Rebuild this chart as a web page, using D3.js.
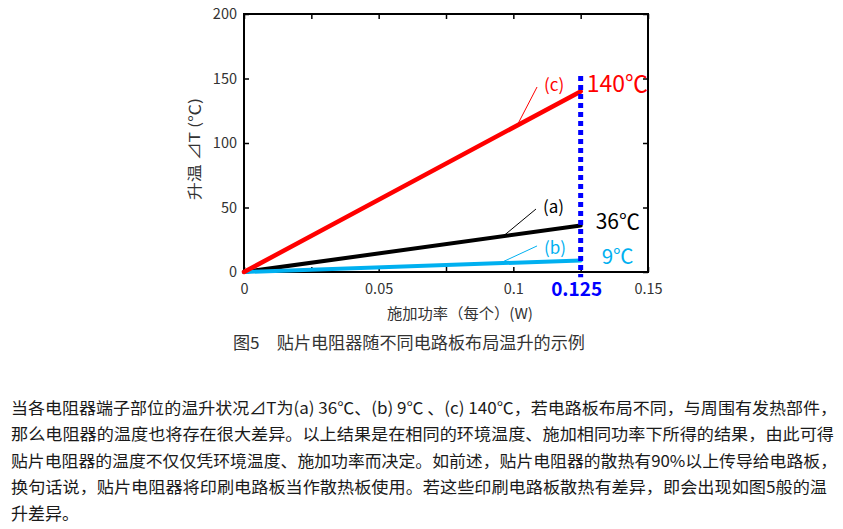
<!DOCTYPE html>
<html>
<head>
<meta charset="utf-8">
<script src="https://cdn.jsdelivr.net/npm/d3@7/dist/d3.min.js"></script>
<style>
  html, body { margin: 0; padding: 0; background: #fff; }
  svg { display: block; font-family: "Noto Sans CJK SC", "Noto Sans", sans-serif; }
</style>
</head>
<body>
<svg id="chart" width="843" height="529"></svg>
<script>
// ---- data ----
const power = [0, 0.125];                 // W per resistor
const riseA = [0, 36];                    // (a) black
const riseB = [0, 9];                     // (b) light blue
const riseC = [0, 140];                   // (c) red
const seriesNames = ["(a)", "(b)", "(c)"];
const endLabels = ["36℃", "9℃", "140℃"];
const xTickValues = [0, 0.025, 0.05, 0.075, 0.1, 0.125, 0.15];
const xTickLabels = ["0", "", "0.05", "", "0.1", "", "0.15"];
const yTickValues = [0, 50, 100, 150, 200];
const yTickLabels = ["0", "50", "100", "150", "200"];
const markerPower = 0.125;
const markerLabel = "0.125";
const leaderStart = [[0.1084, 48.8], [0.1088, 20.2], [0.1088, 143.4]];
const leaderEndX = [0.0962, 0.0950, 0.1014];
const xTitle = "施加功率（每个）(W)";
const yTitle = "升温  ⊿T (℃)";
const caption = "图5　贴片电阻器随不同电路板布局温升的示例";
const paragraph = [
  "当各电阻器端子部位的温升状况⊿T为(a) 36℃、(b) 9℃ 、(c) 140℃，若电路板布局不同，与周围有发热部件，",
  "那么电阻器的温度也将存在很大差异。以上结果是在相同的环境温度、施加相同功率下所得的结果，由此可得",
  "贴片电阻器的温度不仅仅凭环境温度、施加功率而决定。如前述，贴片电阻器的散热有90%以上传导给电路板，",
  "换句话说，贴片电阻器将印刷电路板当作散热板使用。若这些印刷电路板散热有差异，即会出现如图5般的温",
  "升差异。"
];

// ---- styles ----
const colors = ["#000000", "#00b0f0", "#ff0000"];
const widths = [4, 4, 4.5];
const endOffsets = [[15, 3.5, 21], [21, 3.6, 20.5], [6, 0.8, 23]];  // dx, dy, font-size

const svg = d3.select("#chart");
const L = 244, R = 648, T = 14, B = 272;
const x = d3.scaleLinear().domain([0, 0.15]).range([L, R]);
const y = d3.scaleLinear().domain([0, 200]).range([B, T]);

// ticks
const axB = d3.axisBottom(x).tickValues(xTickValues).tickSizeInner(-5).tickSizeOuter(0).tickPadding(12)
  .tickFormat((d, i) => xTickLabels[i]);
const axT = d3.axisTop(x).tickValues(xTickValues).tickSizeInner(-5).tickSizeOuter(0).tickFormat("");
const axL = d3.axisLeft(y).tickValues(yTickValues).tickSizeInner(-5).tickSizeOuter(0).tickPadding(7)
  .tickFormat((d, i) => yTickLabels[i]);
const axR = d3.axisRight(y).tickValues(yTickValues).tickSizeInner(-5).tickSizeOuter(0).tickFormat("");

function styleAxis(g) {
  g.select(".domain").remove();
  g.selectAll(".tick line").attr("stroke", "#000").attr("stroke-width", 1.5);
  g.selectAll(".tick text").attr("fill", "#333").attr("font-size", 14.5)
    .attr("font-family", "'Noto Sans CJK SC', 'Noto Sans', sans-serif");
}
svg.append("g").attr("transform", `translate(0,${B})`).call(axB).call(styleAxis);
svg.append("g").attr("transform", `translate(0,${T})`).call(axT).call(styleAxis);
svg.append("g").attr("transform", `translate(${L},0)`).call(axL).call(styleAxis);
svg.append("g").attr("transform", `translate(${R},0)`).call(axR).call(styleAxis);

// frame
svg.append("rect").attr("x", L).attr("y", T).attr("width", R - L).attr("height", B - T)
  .attr("fill", "none").attr("stroke", "#000").attr("stroke-width", 2);

// series lines
const series = [riseA, riseB, riseC];
const line = d3.line().x(d => x(d[0])).y(d => y(d[1]));
series.forEach((vals, i) => {
  svg.append("path").datum(power.map((p, j) => [p, vals[j]]))
    .attr("d", line).attr("fill", "none").attr("stroke", colors[i])
    .attr("stroke-width", widths[i]).attr("stroke-linecap", "round");
});

// leader lines + labels
series.forEach((vals, i) => {
  const slope = vals[1] / power[1];
  const ex = leaderEndX[i], ey = slope * ex;
  svg.append("line")
    .attr("x1", x(leaderStart[i][0])).attr("y1", y(leaderStart[i][1]))
    .attr("x2", x(ex)).attr("y2", y(ey))
    .attr("stroke", colors[i]).attr("stroke-width", 1);
  svg.append("text").attr("x", x(leaderStart[i][0]) + 7).attr("y", y(leaderStart[i][1]) + [4, 8.5, 4][i])
    .attr("fill", colors[i]).attr("font-size", 17).text(seriesNames[i]);
});

// marker dashed line
svg.append("line").attr("x1", x(markerPower)).attr("x2", x(markerPower))
  .attr("y1", y(152)).attr("y2", y(-4))
  .attr("stroke", "#0000ff").attr("stroke-width", 5).attr("stroke-dasharray", "5,4");

// end labels
series.forEach((vals, i) => {
  svg.append("text").attr("x", x(power[1]) + endOffsets[i][0]).attr("y", y(vals[1]) + endOffsets[i][1])
    .attr("fill", colors[i]).attr("font-size", endOffsets[i][2]).text(endLabels[i]);
});

// marker label
svg.append("text").attr("x", x(markerPower) - 4).attr("y", B + 24).attr("text-anchor", "middle")
  .attr("fill", "#0000ff").attr("font-weight", "bold").attr("font-size", 19).text(markerLabel);

// axis titles
svg.append("text").attr("x", 387).attr("y", 319).attr("font-size", 15).attr("fill", "#333")
  .attr("textLength", 146).attr("lengthAdjust", "spacingAndGlyphs").text(xTitle);
svg.append("text").attr("transform", "translate(200,200) rotate(-90)")
  .attr("font-size", 15).attr("fill", "#333")
  .attr("textLength", 102).attr("lengthAdjust", "spacingAndGlyphs").text(yTitle);

// caption
svg.append("text").attr("x", 233).attr("y", 349).attr("font-size", 16.5).attr("fill", "#333")
  .attr("textLength", 352).attr("lengthAdjust", "spacingAndGlyphs").text(caption);

// paragraph
const paraLen = [826, 823, 826, 816, null];
paragraph.forEach((t, i) => {
  const el = svg.append("text").attr("x", 11).attr("y", 413.5 + i * 26.6)
    .attr("font-size", paraLen[i] ? 16.4 : 17).attr("fill", "#1a1a1a").text(t);
  if (paraLen[i]) el.attr("textLength", paraLen[i]).attr("lengthAdjust", "spacingAndGlyphs");
});
</script>
</body>
</html>
